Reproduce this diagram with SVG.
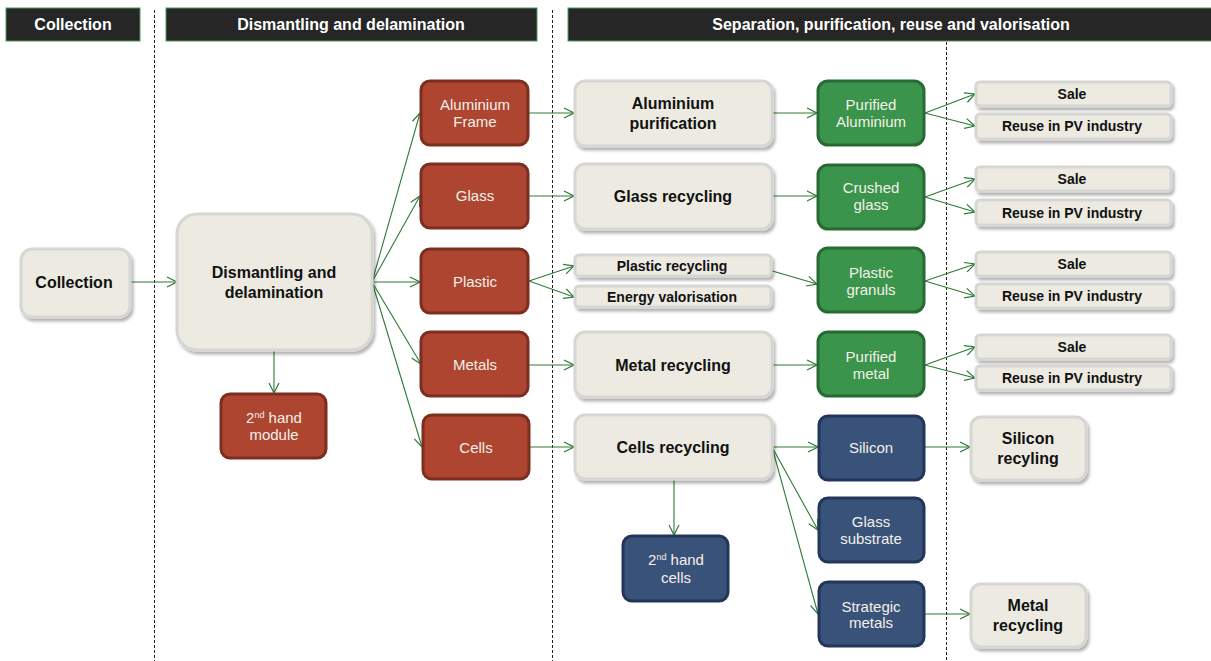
<svg xmlns="http://www.w3.org/2000/svg" width="1211" height="661" viewBox="0 0 1211 661">
<defs>
<filter id="sh" x="-10%" y="-10%" width="130%" height="140%">
<feDropShadow dx="2" dy="3" stdDeviation="1.8" flood-color="#000" flood-opacity="0.3"/>
</filter>
<marker id="arr" markerUnits="userSpaceOnUse" markerWidth="12" markerHeight="12" viewBox="0 0 12 12" refX="11" refY="6" orient="auto">
<path d="M1,1 L11,6 L1,11" fill="none" stroke="#2E7A36" stroke-width="1.2"/>
</marker>
</defs>
<style>
.hdr rect{fill:#262626;stroke:#4E9A58;stroke-width:1}
.hdr text{fill:#fff;font-family:"Liberation Sans",Arial,sans-serif;font-weight:bold;font-size:16px;text-anchor:middle}
.dash{stroke:#222;stroke-width:1;stroke-dasharray:3,2;fill:none}
.lt rect{fill:#ECEAE1;stroke:#D6D6D4;stroke-width:3;filter:url(#sh)}
.lt text{fill:#111;font-family:"Liberation Sans",Arial,sans-serif;font-weight:bold;font-size:16px;text-anchor:middle}
.sm text{font-size:14px}
.red rect{fill:#AD4530;stroke:#7C2E20;stroke-width:3}
.grn rect{fill:#3A944B;stroke:#276A33;stroke-width:3}
.blu rect{fill:#395279;stroke:#22365A;stroke-width:3}
.red text,.grn text,.blu text{fill:#F4F0EA;font-family:"Liberation Sans",Arial,sans-serif;font-size:15px;text-anchor:middle}
#conn path{fill:none;stroke:#2E7A36;stroke-width:1.1;marker-end:url(#arr)}
</style>
<rect width="1211" height="661" fill="#fff"/>
<g id="headers">
<g class="hdr" id="h-collection"><rect x="6" y="8" width="134" height="33"/><text x="73" y="30">Collection</text></g>
<g class="hdr" id="h-dismantling"><rect x="166" y="8" width="371" height="33"/><text x="351" y="30">Dismantling and delamination</text></g>
<g class="hdr" id="h-separation"><rect x="568" y="8" width="650" height="33"/><text x="891" y="30">Separation, purification, reuse and valorisation</text></g>
</g>
<g id="dividers">
<line class="dash" x1="154.5" y1="10" x2="154.5" y2="661"/>
<line class="dash" x1="552.5" y1="10" x2="552.5" y2="661"/>
<line class="dash" x1="946.5" y1="42" x2="946.5" y2="661"/>
</g>
<g id="conn">
<path d="M130,282 H177"/>
<path d="M372,282 L420,113"/>
<path d="M372,282 L420,196"/>
<path d="M372,282 L420,282"/>
<path d="M372,282 L421,364"/>
<path d="M372,282 L422,447"/>
<path d="M274,350 V393"/>
<path d="M529,113 H574"/>
<path d="M529,196 H574"/>
<path d="M529,281 L574,266"/>
<path d="M529,281 L574,297"/>
<path d="M529,365 H574"/>
<path d="M530,447 H574"/>
<path d="M772,113 H817"/>
<path d="M772,196 H817"/>
<path d="M769,270 L817,284"/>
<path d="M772,365 H817"/>
<path d="M772,447 H818"/>
<path d="M772,447 L818,530"/>
<path d="M772,447 L818,614"/>
<path d="M674,480 V535"/>
<path d="M925,113 L975,94"/>
<path d="M925,113 L975,126"/>
<path d="M925,197 L975,179"/>
<path d="M925,197 L975,212"/>
<path d="M925,281 L975,264"/>
<path d="M925,281 L975,296"/>
<path d="M925,365 L975,347"/>
<path d="M925,365 L975,378"/>
<path d="M925,447 H970"/>
<path d="M925,614 H970"/>
</g>
<g class="lt" id="n-collection"><rect x="21" y="249" width="109" height="68" rx="11"/><text x="74" y="288">Collection</text></g>
<g class="lt" id="n-dismantling"><rect x="177" y="214" width="195" height="136" rx="20"/><text x="274" y="278">Dismantling and</text><text x="274" y="298">delamination</text></g>
<g class="red" id="n-2ndmodule"><rect x="221" y="394" width="105" height="64" rx="9"/><text x="274" y="423">2<tspan font-size="9" dy="-5">nd</tspan><tspan dy="5"> hand</tspan></text><text x="274" y="440">module</text></g>
<g class="red" id="n-alframe"><rect x="421" y="81" width="107" height="64" rx="9"/><text x="475" y="110">Aluminium</text><text x="475" y="127">Frame</text></g>
<g class="red" id="n-glass"><rect x="421" y="164" width="107" height="64" rx="9"/><text x="475" y="201">Glass</text></g>
<g class="red" id="n-plastic"><rect x="421" y="249" width="107" height="64" rx="9"/><text x="475" y="287">Plastic</text></g>
<g class="red" id="n-metals"><rect x="421" y="332" width="107" height="64" rx="9"/><text x="475" y="370">Metals</text></g>
<g class="red" id="n-cells"><rect x="423" y="415" width="106" height="64" rx="9"/><text x="476" y="453">Cells</text></g>
<g class="lt" id="n-alpur"><rect x="575" y="81" width="197" height="65" rx="10"/><text x="673" y="109">Aluminium</text><text x="673" y="129">purification</text></g>
<g class="lt" id="n-glassrec"><rect x="575" y="164" width="197" height="65" rx="10"/><text x="673" y="202">Glass recycling</text></g>
<g class="lt sm" id="n-plasticrec"><rect x="575" y="255" width="196" height="21" rx="4"/><text x="672" y="271">Plastic recycling</text></g>
<g class="lt sm" id="n-energy"><rect x="575" y="286" width="196" height="21" rx="4"/><text x="672" y="302">Energy valorisation</text></g>
<g class="lt" id="n-metalrec"><rect x="575" y="332" width="197" height="65" rx="10"/><text x="673" y="371">Metal recycling</text></g>
<g class="lt" id="n-cellsrec"><rect x="575" y="415" width="197" height="64" rx="10"/><text x="673" y="453">Cells recycling</text></g>
<g class="blu" id="n-2ndcells"><rect x="623" y="536" width="105" height="65" rx="9"/><text x="676" y="565">2<tspan font-size="9" dy="-5">nd</tspan><tspan dy="5"> hand</tspan></text><text x="676" y="583">cells</text></g>
<g class="grn" id="n-pural"><rect x="818" y="81" width="106" height="64" rx="10"/><text x="871" y="110">Purified</text><text x="871" y="127">Aluminium</text></g>
<g class="grn" id="n-crushed"><rect x="818" y="165" width="106" height="64" rx="10"/><text x="871" y="193">Crushed</text><text x="871" y="210">glass</text></g>
<g class="grn" id="n-granuls"><rect x="818" y="248" width="106" height="64" rx="10"/><text x="871" y="278">Plastic</text><text x="871" y="295">granuls</text></g>
<g class="grn" id="n-purmetal"><rect x="818" y="332" width="106" height="64" rx="10"/><text x="871" y="362">Purified</text><text x="871" y="379">metal</text></g>
<g class="blu" id="n-silicon"><rect x="819" y="416" width="105" height="64" rx="9"/><text x="871" y="453">Silicon</text></g>
<g class="blu" id="n-glasssub"><rect x="819" y="498" width="105" height="64" rx="9"/><text x="871" y="527" font-size="14">Glass</text><text x="871" y="544" font-size="14">substrate</text></g>
<g class="blu" id="n-strategic"><rect x="819" y="582" width="105" height="64" rx="9"/><text x="871" y="612" font-size="13">Strategic</text><text x="871" y="628" font-size="13">metals</text></g>
<g class="lt sm" id="n-sale1"><rect x="976" y="82" width="195" height="24" rx="4"/><text x="1072" y="99">Sale</text></g>
<g class="lt sm" id="n-reuse1"><rect x="976" y="114" width="195" height="25" rx="4"/><text x="1072" y="131">Reuse in PV industry</text></g>
<g class="lt sm" id="n-sale2"><rect x="976" y="167" width="195" height="24" rx="4"/><text x="1072" y="184">Sale</text></g>
<g class="lt sm" id="n-reuse2"><rect x="976" y="200" width="195" height="25" rx="4"/><text x="1072" y="218">Reuse in PV industry</text></g>
<g class="lt sm" id="n-sale3"><rect x="976" y="252" width="195" height="24" rx="4"/><text x="1072" y="269">Sale</text></g>
<g class="lt sm" id="n-reuse3"><rect x="976" y="284" width="195" height="24" rx="4"/><text x="1072" y="301">Reuse in PV industry</text></g>
<g class="lt sm" id="n-sale4"><rect x="976" y="335" width="195" height="24" rx="4"/><text x="1072" y="352">Sale</text></g>
<g class="lt sm" id="n-reuse4"><rect x="976" y="366" width="195" height="24" rx="4"/><text x="1072" y="383">Reuse in PV industry</text></g>
<g class="lt" id="n-sirec"><rect x="971" y="417" width="115" height="63" rx="10"/><text x="1028" y="444">Silicon</text><text x="1028" y="464">recyling</text></g>
<g class="lt" id="n-metrec"><rect x="971" y="584" width="115" height="63" rx="10"/><text x="1028" y="611">Metal</text><text x="1028" y="631">recycling</text></g>
</svg>
